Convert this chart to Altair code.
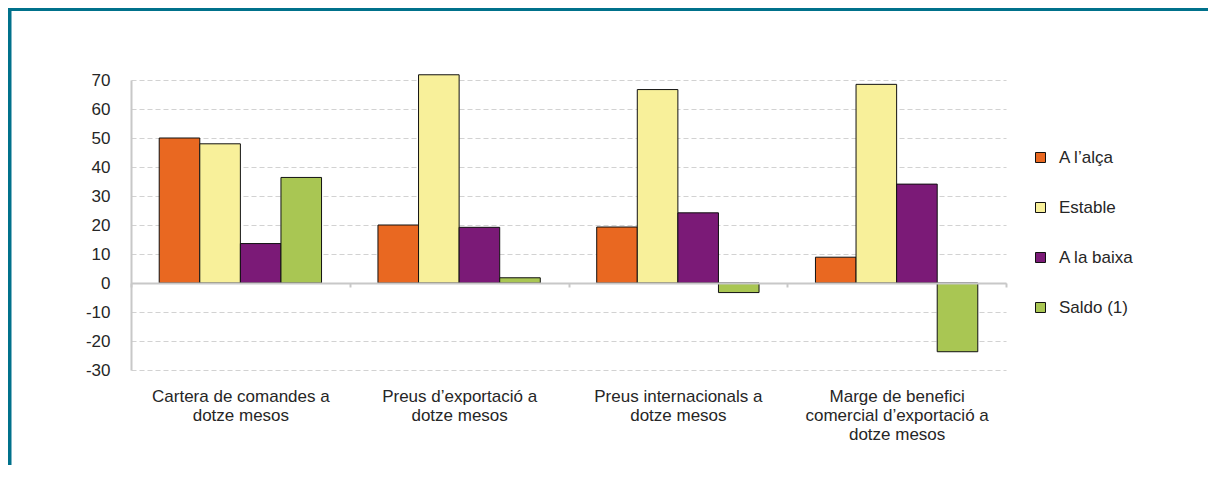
import altair as alt
import pandas as pd

# ---- data ----
categories = [
    "Cartera de comandes a\ndotze mesos",
    "Preus d’exportació a\ndotze mesos",
    "Preus internacionals a\ndotze mesos",
    "Marge de benefici\ncomercial d’exportació a\ndotze mesos",
]
series = ["A l’alça", "Estable", "A la baixa", "Saldo (1)"]
a_l_alca = [50.0, 20.0, 19.3, 8.9]
estable = [48.0, 71.8, 66.7, 68.5]
a_la_baixa = [13.6, 19.2, 24.2, 34.1]
saldo = [36.4, 1.8, -3.3, -23.7]
colors = ["#E96821", "#F8F09A", "#7B1A77", "#A9C653"]
y_ticks = [-30, -20, -10, 0, 10, 20, 30, 40, 50, 60, 70]

rows = []
for i, c in enumerate(categories):
    for s, vals in zip(series, [a_l_alca, estable, a_la_baixa, saldo]):
        rows.append({"Categoria": c, "Serie": s, "Valor": vals[i]})
df = pd.DataFrame(rows)

FONT = "Liberation Sans"
TEXT = "#262626"
AXIS_GRAY = "#c8c8c8"
TEAL = "#00718B"
W, H = 875, 290
YMIN, YMAX = -30, 70
zero_offset = -H * (0 - YMIN) / (YMAX - YMIN)

bars = alt.Chart(df).mark_bar(stroke="#111111", strokeWidth=1).encode(
    x=alt.X(
        "Categoria:N",
        sort=categories,
        scale=alt.Scale(paddingInner=0, paddingOuter=0),
        axis=alt.Axis(
            title=None, orient="bottom", offset=zero_offset, labelAngle=0,
            labelPadding=101, labelExpr="split(datum.label, '\\n')",
            labelLineHeight=19, labelFontSize=17, labelLimit=0,
            labelColor=TEXT, labelFont=FONT,
            domain=True, domainColor=AXIS_GRAY, domainWidth=2,
            ticks=True, tickBand="extent", tickColor=AXIS_GRAY, tickWidth=2, tickSize=4,
            grid=False, zindex=1,
        ),
    ),
    xOffset=alt.XOffset("Serie:N", sort=series,
                        scale=alt.Scale(paddingInner=0, paddingOuter=0.695)),
    y=alt.Y(
        "Valor:Q",
        scale=alt.Scale(domain=[YMIN, YMAX], nice=False, zero=False),
        axis=alt.Axis(
            values=y_ticks, title=None, grid=True, gridDash=[5, 3], gridColor="#d2d2d2",
            gridWidth=1.2, ticks=False, labelPadding=21, labelFontSize=17,
            labelExpr="toString(datum.value)",
            labelColor=TEXT, labelFont=FONT, domain=True, domainColor=AXIS_GRAY, domainWidth=2,
        ),
    ),
    color=alt.Color(
        "Serie:N", sort=series,
        scale=alt.Scale(domain=series, range=colors),
        legend=alt.Legend(
            title=None, orient="none", legendX=901, legendY=69,
            symbolType="square", symbolSize=100, symbolStrokeColor="#111111",
            symbolStrokeWidth=1, labelFontSize=17, labelFont=FONT, labelColor=TEXT,
            rowPadding=32, labelOffset=10,
        ),
    ),
)

deco_src = pd.DataFrame({"k": [0]})
top_band = alt.Chart(deco_src).mark_rect(color=TEAL).encode(
    x=alt.value(-123), x2=alt.value(1077), y=alt.value(-72), y2=alt.value(-69)
)
left_band = alt.Chart(deco_src).mark_rect(color=TEAL).encode(
    x=alt.value(-123), x2=alt.value(-119.5), y=alt.value(-72), y2=alt.value(H + 95)
)

chart = alt.layer(top_band, left_band, bars).properties(
    width=W, height=H,
    padding={"left": 123, "top": 72, "right": 202, "bottom": 95},
    autosize=alt.AutoSizeParams(type="none"),
    background="white",
).configure_view(stroke="transparent", strokeWidth=0)

chart.save("out.html", embed_options={"renderer": "svg", "actions": False})
